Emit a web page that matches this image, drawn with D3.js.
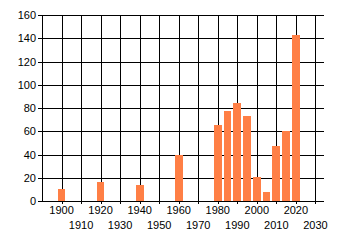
<!DOCTYPE html>
<html>
<head>
<meta charset="utf-8">
<script src="https://cdn.jsdelivr.net/npm/d3@7"></script>
<style>
  body { margin: 0; background: white; }
  text { font-family: "Liberation Sans", Arial, sans-serif; font-size: 11px; fill: #000; }
</style>
</head>
<body>
<script>
// bar data: year -> value
const years = [1900, 1920, 1940, 1960, 1980, 1985, 1990, 1995, 2000, 2005, 2010, 2015, 2020];
const values = [10, 16, 14, 40, 65, 77, 84, 73, 21, 8, 47, 60, 143];
const xTicks = [1900, 1910, 1920, 1930, 1940, 1950, 1960, 1970, 1980, 1990, 2000, 2010, 2020, 2030];
const yTicks = [0, 20, 40, 60, 80, 100, 120, 140, 160];

const width = 340;
const height = 245;
const margin = { top: 15, right: 16, bottom: 44, left: 42 };
const barYears = 4; // bar width in years

const x = d3.scaleLinear()
  .domain([1890, 2034.4])
  .range([margin.left, width - margin.right]);

const y = d3.scaleLinear()
  .domain([0, 160])
  .range([height - margin.bottom, margin.top]);

const crisp = (v) => Math.round(v) + 0.5;

const svg = d3.select('body')
  .append('svg')
  .attr('width', width)
  .attr('height', height);

svg.append('rect')
  .attr('width', width)
  .attr('height', height)
  .attr('fill', 'white');

// Horizontal gridlines
svg.append('g')
  .selectAll('line')
  .data(yTicks)
  .enter()
  .append('line')
  .attr('x1', margin.left - 4)
  .attr('x2', width - margin.right)
  .attr('y1', (d) => crisp(y(d)))
  .attr('y2', (d) => crisp(y(d)))
  .attr('stroke', '#000')
  .attr('stroke-width', 1);

// Vertical gridlines + ticks
svg.append('g')
  .selectAll('line')
  .data(xTicks)
  .enter()
  .append('line')
  .attr('x1', (d) => crisp(x(d)))
  .attr('x2', (d) => crisp(x(d)))
  .attr('y1', margin.top)
  .attr('y2', height - margin.bottom + 3)
  .attr('stroke', '#000')
  .attr('stroke-width', 1);

// Y axis line
svg.append('line')
  .attr('x1', crisp(margin.left))
  .attr('x2', crisp(margin.left))
  .attr('y1', margin.top)
  .attr('y2', height - margin.bottom + 1)
  .attr('stroke', '#000');

// Bars
svg.append('g')
  .selectAll('rect')
  .data(years)
  .enter()
  .append('rect')
  .attr('x', (d) => Math.round(x(d - barYears / 2)))
  .attr('width', (d) => Math.round(x(d + barYears / 2)) - Math.round(x(d - barYears / 2)))
  .attr('y', (d, i) => Math.round(y(values[i])))
  .attr('height', (d, i) => Math.round(y(0)) - Math.round(y(values[i])))
  .attr('fill', '#ff7f45');

// Y labels
svg.append('g')
  .selectAll('text')
  .data(yTicks)
  .enter()
  .append('text')
  .attr('x', margin.left - 6)
  .attr('y', (d) => y(d) + 4)
  .attr('text-anchor', 'end')
  .text((d) => d);

// X labels, staggered in two rows
svg.append('g')
  .selectAll('text')
  .data(xTicks)
  .enter()
  .append('text')
  .attr('x', (d) => x(d))
  .attr('y', (d, i) => (i % 2 === 0 ? 214 : 229))
  .attr('text-anchor', 'middle')
  .text((d) => d);
</script>
</body>
</html>
